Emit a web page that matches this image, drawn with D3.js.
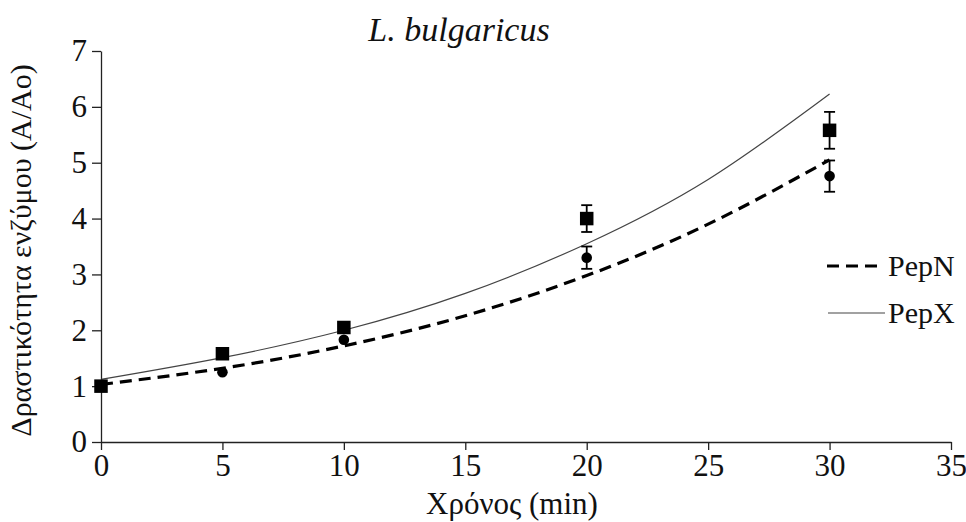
<!DOCTYPE html>
<html>
<head>
<meta charset="utf-8">
<script src="https://cdn.jsdelivr.net/npm/d3@7"></script>
</head>
<body style="margin:0;background:#fff">
<svg id="chart" width="966" height="522" style="display:block"></svg>
<script>
// time points (min)
const times = [0, 5, 10, 20, 30]
// measured activity (A/Ao)
const pepN = [1.0, 1.25, 1.83, 3.30, 4.76]
const pepX = [1.0, 1.58, 2.05, 4.00, 5.58]
// error bars (only visible ones outside the markers)
const pepNErr = [0, 0, 0, 0.20, 0.28]
const pepXErr = [0, 0, 0, 0.24, 0.33]
// exponential trendlines
const trendTimes = [0, 5, 10, 15, 20, 25, 30]
const pepNTrend = [1.03, 1.32, 1.72, 2.26, 2.98, 3.90, 5.05]
const pepXTrend = [1.12, 1.51, 2.00, 2.66, 3.55, 4.70, 6.23]
const xTicks = [0, 5, 10, 15, 20, 25, 30, 35]
const yTicks = [0, 1, 2, 3, 4, 5, 6, 7]

const width = 966
const height = 522
const margin = { top: 51, right: 15, bottom: 80, left: 101 }
const serif = '"Liberation Serif"'

const svg = d3.select('#chart')

const x = d3.scaleLinear().domain([0, 35]).range([margin.left, width - margin.right])
const y = d3.scaleLinear().domain([0, 7]).range([height - margin.bottom, margin.top])

const axisColor = '#222'

// axes
const xAxis = svg.append('g')
  .attr('transform', `translate(0,${y(0)})`)
  .call(d3.axisBottom(x).tickValues(xTicks).tickFormat(d3.format('d'))
    .tickSize(8).tickSizeOuter(0).tickPadding(4))
xAxis.attr('font-family', null).attr('font-size', null)
xAxis.select('.domain').attr('stroke', axisColor).attr('stroke-width', 1.3)
xAxis.selectAll('.tick line').attr('stroke', axisColor).attr('stroke-width', 1.3)
xAxis.selectAll('.tick text')
  .attr('fill', '#111')
  .attr('font-size', 31)
  .style('font-family', serif)

const yAxis = svg.append('g')
  .attr('transform', `translate(${x(0)},0)`)
  .call(d3.axisLeft(y).tickValues(yTicks).tickFormat(d3.format('d'))
    .tickSize(9).tickSizeOuter(0).tickPadding(5))
yAxis.attr('font-family', null).attr('font-size', null)
yAxis.select('.domain').attr('stroke', axisColor).attr('stroke-width', 1.3)
yAxis.selectAll('.tick line').attr('stroke', axisColor).attr('stroke-width', 1.3)
yAxis.selectAll('.tick text')
  .attr('fill', '#111')
  .attr('font-size', 31)
  .style('font-family', serif)

// titles
svg.append('text')
  .attr('x', 459)
  .attr('y', 41)
  .attr('text-anchor', 'middle')
  .attr('fill', '#111')
  .attr('font-size', 34)
  .attr('font-style', 'italic')
  .style('font-family', serif)
  .text('L. bulgaricus')

svg.append('text')
  .attr('x', 512)
  .attr('y', 514)
  .attr('text-anchor', 'middle')
  .attr('fill', '#111')
  .attr('font-size', 31)
  .style('font-family', serif)
  .text('Χρόνος (min)')

svg.append('text')
  .attr('transform', `translate(31,${(y(0) + y(7)) / 2 + 4}) rotate(-90)`)
  .attr('text-anchor', 'middle')
  .attr('fill', '#111')
  .attr('font-size', 30)
  .style('font-family', serif)
  .text('Δραστικότητα ενζύμου (A/Ao)')

// trendlines
const trendLine = d3.line()
  .x(d => x(d[0]))
  .y(d => y(d[1]))
  .curve(d3.curveNatural)

svg.append('path')
  .datum(trendTimes.map((t, i) => [t, pepXTrend[i]]))
  .attr('d', trendLine)
  .attr('fill', 'none')
  .attr('stroke', '#444')
  .attr('stroke-width', 1.2)

svg.append('path')
  .datum(trendTimes.map((t, i) => [t, pepNTrend[i]]))
  .attr('d', trendLine)
  .attr('fill', 'none')
  .attr('stroke', '#000')
  .attr('stroke-width', 3.2)
  .attr('stroke-dasharray', '12 7')

// error bars
function errorBars(values, errors) {
  const g = svg.append('g')
    .attr('stroke', '#000')
    .attr('stroke-width', 1.8)
  const rows = times.map((t, i) => ({ t, v: values[i], e: errors[i] })).filter(d => d.e > 0)
  g.selectAll('line.v').data(rows).join('line')
    .attr('x1', d => x(d.t)).attr('x2', d => x(d.t))
    .attr('y1', d => y(d.v - d.e)).attr('y2', d => y(d.v + d.e))
  g.selectAll('line.top').data(rows).join('line')
    .attr('x1', d => x(d.t) - 5.5).attr('x2', d => x(d.t) + 5.5)
    .attr('y1', d => y(d.v + d.e)).attr('y2', d => y(d.v + d.e))
  g.selectAll('line.bot').data(rows).join('line')
    .attr('x1', d => x(d.t) - 5.5).attr('x2', d => x(d.t) + 5.5)
    .attr('y1', d => y(d.v - d.e)).attr('y2', d => y(d.v - d.e))
}
errorBars(pepN, pepNErr)
errorBars(pepX, pepXErr)

// markers
svg.append('g')
  .selectAll('circle')
  .data(times.map((t, i) => [t, pepN[i]]))
  .join('circle')
  .attr('cx', d => x(d[0]))
  .attr('cy', d => y(d[1]))
  .attr('r', 5.3)
  .attr('fill', '#000')

const sq = 13.5
svg.append('g')
  .selectAll('rect')
  .data(times.map((t, i) => [t, pepX[i]]))
  .join('rect')
  .attr('x', d => x(d[0]) - sq / 2)
  .attr('y', d => y(d[1]) - sq / 2)
  .attr('width', sq)
  .attr('height', sq)
  .attr('fill', '#000')

// legend
const legend = svg.append('g')
legend.append('line')
  .attr('x1', 827).attr('x2', 881).attr('y1', 266).attr('y2', 266)
  .attr('stroke', '#000').attr('stroke-width', 3.2).attr('stroke-dasharray', '12 7')
legend.append('text')
  .attr('x', 888).attr('y', 276)
  .attr('fill', '#111')
  .attr('font-size', 30)
  .style('font-family', serif)
  .text('PepN')
legend.append('line')
  .attr('x1', 828).attr('x2', 885).attr('y1', 313).attr('y2', 313)
  .attr('stroke', '#444').attr('stroke-width', 1.2)
legend.append('text')
  .attr('x', 888).attr('y', 323)
  .attr('fill', '#111')
  .attr('font-size', 30)
  .style('font-family', serif)
  .text('PepX')
</script>
</body>
</html>
